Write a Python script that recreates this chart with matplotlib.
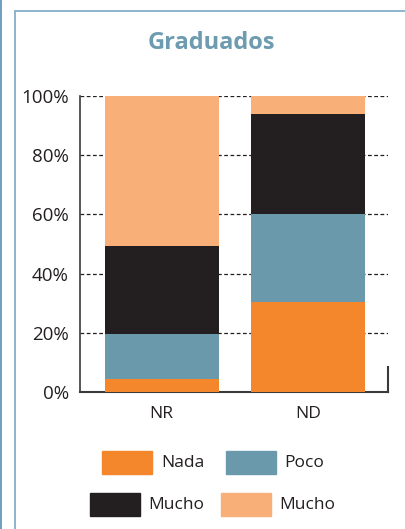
import matplotlib
matplotlib.use("Agg")
import matplotlib.pyplot as plt
from matplotlib.patches import Rectangle
from matplotlib.lines import Line2D

categories = ["NR", "ND"]
series_labels = ["Nada", "Poco", "Mucho", "Mucho"]
nada = [4.5, 30.5]
poco = [15.0, 29.6]
mucho_dark = [29.9, 33.8]
mucho_light = [50.6, 6.1]
series_values = [nada, poco, mucho_dark, mucho_light]
colors = ["#F4862C", "#6B99AC", "#231F20", "#F9AF78"]
yticks = [0, 20, 40, 60, 80, 100]
ytick_labels = ["0%", "20%", "40%", "60%", "80%", "100%"]

plt.rcParams['font.family'] = ['Open Sans', 'DejaVu Sans']

W, H = 405, 529
fig = plt.figure(figsize=(W / 100, H / 100), dpi=100)

def fx(px):
    return px / W

def fy(py):
    return 1 - py / H

# frame lines
fig.add_artist(Line2D([fx(0.8), fx(0.8)], [0, 1], color="#6E9FBD", lw=1.4, transform=fig.transFigure))
fig.add_artist(Line2D([fx(14.5), fx(14.5)], [0, fy(10.5)], color="#8CB4CC", lw=1.4, transform=fig.transFigure))
fig.add_artist(Line2D([fx(14.5), 1], [fy(10.5), fy(10.5)], color="#8CB4CC", lw=1.4, transform=fig.transFigure))

# title
fig.text(fx(211), fy(43), "Graduados", ha="center", va="center", fontsize=17,
         fontweight="bold", color="#6D9BB0")

ax = fig.add_axes([fx(80), fy(392), fx(388) - fx(80), fy(96) - fy(392)])
x = list(range(len(categories)))
bottom = [0.0] * len(categories)
for vals, col in zip(series_values, colors):
    ax.bar(x, vals, width=0.78, bottom=bottom, color=col, zorder=3)
    bottom = [b + v for b, v in zip(bottom, vals)]

ax.set_xlim(-0.56, 1.55)
ax.set_ylim(0, 100)
ax.set_yticks(yticks)
ax.set_yticklabels(ytick_labels)
ax.set_xticks(x)
ax.set_xticklabels(categories)
ax.tick_params(axis="both", length=0, colors="#231F20")
ax.tick_params(axis="y", pad=8, labelsize=13.5)
ax.tick_params(axis="x", pad=10, labelsize=12.5)
for yv in yticks[1:]:
    ax.axhline(yv, color="#231F20", lw=0.9, ls=(0, (3, 2)), zorder=1)
for s in ["top", "right"]:
    ax.spines[s].set_visible(False)
ax.spines["left"].set_color("#3a3a3a")
ax.spines["bottom"].set_color("#3a3a3a")
ax.spines["left"].set_linewidth(1.2)
ax.spines["bottom"].set_linewidth(1.5)
ax.add_line(Line2D([1.0, 1.0], [0, 0.085], transform=ax.transAxes, color="#3a3a3a",
                   lw=1.5, clip_on=False, zorder=4))

# legend (manual layout)
legend_pos = [(102, 451, 161), (226, 451, 284), (90, 493, 148), (221, 493, 279)]
for (px, py, tx), lab, col in zip(legend_pos, series_labels, colors):
    fig.add_artist(Rectangle((fx(px), fy(py + 22.5)), fx(50), 22.5 / H, color=col,
                             transform=fig.transFigure))
    fig.text(fx(tx), fy(py + 12), lab, ha="left", va="center", fontsize=12.5, color="#231F20")

fig.savefig("out.png", dpi=100)
